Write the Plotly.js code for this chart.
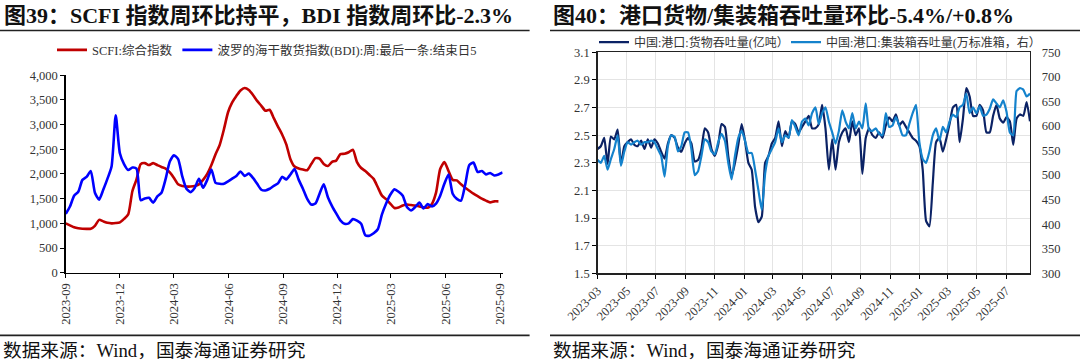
<!DOCTYPE html>
<html>
<head>
<meta charset="utf-8">
<script src="https://cdn.plot.ly/plotly-3.0.1.min.js"></script>
<style>
html,body{margin:0;padding:0;background:#fff;}
#chart{width:1080px;height:363px;}
</style>
</head>
<body>
<div id="chart"></div>
<script>
// ---------- Figure 39 data (weekly, Fridays) ----------
const scfiStart = '2023-09-01';
const scfiName = 'SCFI:综合指数';
const bdiName = '波罗的海干散货指数(BDI):周:最后一条:结束日5';
const scfi = [
  1000,960,920,900,890,888,890,950,1070,1040,
  1010,1000,1005,1020,1090,1180,1650,1890,2200,2220,
  2180,2220,2180,2140,2110,2030,1920,1790,1755,1745,
  1745,1755,1790,1880,2000,2180,2400,2590,2900,3250,
  3450,3580,3690,3740,3700,3600,3480,3380,3280,3300,
  3130,2960,2800,2600,2300,2150,2110,2090,2075,2200,
  2320,2310,2200,2160,2245,2270,2400,2410,2440,2490,
  2240,2120,2060,1980,1900,1730,1560,1490,1400,1310,
  1320,1360,1380,1370,1360,1340,1325,1315,1390,1620,
  2100,2240,2060,1880,1870,1790,1720,1660,1600,1550,
  1500,1460,1425,1445,1445
];
const bdi = [
  1190,1340,1560,1640,1880,1940,2060,1620,1480,1680,
  1900,2150,3190,2420,2200,2080,2130,2110,1470,1505,
  1517,1420,1545,1620,1900,2250,2380,2300,1950,1700,
  1632,1720,1900,1720,1880,2090,1820,1800,1800,1850,
  1904,1960,2050,1960,2006,1920,1800,1680,1666,1700,
  1760,1810,1940,1890,1990,2100,1880,1700,1500,1380,
  1400,1600,1790,1530,1350,1200,1060,990,1000,1085,
  1054,990,760,750,800,880,1180,1400,1580,1687,
  1640,1560,1330,1260,1330,1420,1300,1390,1340,1400,
  1560,1800,1990,1600,1496,1460,1780,2180,2230,2040,
  2060,1990,2020,1970,1990,2030
];
const leftRange = ['2023-09-01','2025-09-05'];

// ---------- Figure 40 data (weekly) ----------
const portStart = '2023-03-01';
const cargoName = '中国:港口:货物吞吐量(亿吨）';
const boxName = '中国:港口:集装箱吞吐量(万标准箱，右）';
const cargo = [
  2.40,2.42,2.48,2.29,2.49,2.47,2.54,2.29,2.42,2.45,
  2.47,2.43,2.42,2.46,2.40,2.47,2.41,2.47,2.44,2.38,
  2.33,2.44,2.50,2.48,2.41,2.38,2.44,2.48,2.44,2.31,
  2.32,2.40,2.55,2.52,2.40,2.35,2.43,2.58,2.56,2.35,
  2.20,2.30,2.43,2.58,2.46,2.30,2.25,1.98,1.87,1.91,
  2.30,2.35,2.44,2.48,2.60,2.42,2.53,2.48,2.60,2.58,
  2.52,2.56,2.60,2.64,2.55,2.55,2.58,2.72,2.55,2.25,
  2.47,2.25,2.45,2.52,2.55,2.45,2.60,2.50,2.55,2.22,
  2.48,2.55,2.50,2.48,2.52,2.48,2.57,2.63,2.60,2.65,
  2.57,2.60,2.56,2.52,2.48,2.46,2.42,2.25,1.88,1.84,
  2.15,2.45,2.48,2.38,2.47,2.58,2.70,2.72,2.45,2.62,
  2.84,2.78,2.64,2.64,2.72,2.68,2.52,2.52,2.64,2.72,
  2.62,2.59,2.63,2.60,2.43,2.62,2.65,2.64,2.74,2.60
];
const containers = [
  531,525,539,511,533,553,581,519,548,567,
  562,567,570,562,567,567,570,567,553,539,
  497,559,581,578,548,559,587,587,553,500,
  508,539,573,567,548,542,567,584,570,525,
  491,539,576,590,570,545,545,511,469,429,
  503,539,553,567,595,567,581,576,612,598,
  581,609,615,601,626,638,604,626,638,609,
  587,564,590,632,609,595,626,595,609,595,
  646,592,590,595,584,581,626,598,601,618,
  601,581,581,604,626,643,567,533,525,548,
  581,595,570,598,587,609,623,618,638,643,
  666,626,638,626,640,621,623,635,654,646,
  638,652,629,587,581,671,677,674,660,666
];
const rightRange = ['2023-03-01','2025-08-20'];

const title39 = '图39：SCFI 指数周环比持平，BDI 指数周环比-2.3%';
const title40 = '图40：港口货物/集装箱吞吐量环比-5.4%/+0.8%';
const sourceText = '数据来源：Wind，国泰海通证券研究';

// weekly date labels for each series
function weeklyDates(start, n) {
  const d0 = new Date(start + 'T00:00:00Z');
  const out = [];
  for (let i = 0; i < n; i++) {
    const d = new Date(d0.getTime() + i * 7 * 86400000);
    out.push(d.toISOString().slice(0, 10));
  }
  return out;
}

const serif = "'Liberation Serif', 'Times New Roman', 'Noto Sans CJK SC', serif";
const W = 1080, H = 363;
const px = v => v / W;          // horizontal pixel -> paper
const py = v => 1 - v / H;      // vertical pixel -> paper

const traces = [
  {x: weeklyDates(scfiStart, scfi.length), y: scfi, name: scfiName, type: 'scatter', mode: 'lines',
   xaxis: 'x', yaxis: 'y', legend: 'legend',
   line: {color: '#C00000', width: 2.6, shape: 'spline', smoothing: 0.6}},
  {x: weeklyDates(scfiStart, bdi.length), y: bdi, name: bdiName, type: 'scatter', mode: 'lines',
   xaxis: 'x', yaxis: 'y', legend: 'legend',
   line: {color: '#0000FF', width: 2.6, shape: 'spline', smoothing: 0.6}},
  {x: weeklyDates(portStart, cargo.length), y: cargo, name: cargoName, type: 'scatter', mode: 'lines',
   xaxis: 'x2', yaxis: 'y2', legend: 'legend2',
   line: {color: '#0B2265', width: 2.2, shape: 'spline', smoothing: 0.5}},
  {x: weeklyDates(portStart, containers.length), y: containers, name: boxName, type: 'scatter', mode: 'lines',
   xaxis: 'x2', yaxis: 'y3', legend: 'legend3',
   line: {color: '#1482CC', width: 2.2, shape: 'spline', smoothing: 0.5}}
];

const tickFont = {family: serif, size: 12.5, color: '#333'};
const grid = '#e4e4e4';
const legFont = {family: serif, size: 12, color: '#333'};

const layout = {
  width: W, height: H,
  margin: {l: 0, r: 0, t: 0, b: 0},
  paper_bgcolor: '#fff', plot_bgcolor: '#fff',
  font: {family: serif, size: 12.5, color: '#333'},
  showlegend: true,
  xaxis: {
    domain: [px(65.8), px(502.6)], anchor: 'y', type: 'date', range: leftRange,
    tick0: '2023-09-01', dtick: 'M3', tickformat: '%Y-%m', tickangle: -90,
    ticks: 'outside', ticklen: 4, tickcolor: '#000', tickwidth: 1,
    showline: true, linecolor: '#000', linewidth: 1.5, showgrid: false, zeroline: false,
    tickfont: tickFont, automargin: false
  },
  yaxis: {
    domain: [py(272.7), py(75.2)], anchor: 'x', range: [0, 4000], dtick: 500, tick0: 0,
    tickformat: ',d', ticks: 'outside', ticklen: 4, tickcolor: '#000',
    showline: true, linecolor: '#000', linewidth: 1.5, showgrid: false, zeroline: false,
    tickfont: tickFont, automargin: false
  },
  xaxis2: {
    domain: [px(597.5), px(1030)], anchor: 'y2', type: 'date', range: rightRange,
    tick0: '2023-03-01', dtick: 'M2', tickformat: '%Y-%m', tickangle: -45,
    ticks: 'outside', ticklen: 4, tickcolor: '#000',
    showline: true, mirror: true, linecolor: '#222', linewidth: 1.3,
    showgrid: true, gridcolor: grid, gridwidth: 1, zeroline: false,
    tickfont: tickFont, automargin: false
  },
  yaxis2: {
    domain: [py(273.3), py(52.3)], anchor: 'x2', range: [1.5, 3.1], dtick: 0.2, tick0: 1.5,
    tickformat: '.1f', ticks: 'outside', ticklen: 4, tickcolor: '#000',
    showline: true, linecolor: '#222', linewidth: 1.3,
    showgrid: true, gridcolor: grid, gridwidth: 1, zeroline: false,
    tickfont: tickFont, automargin: false
  },
  yaxis3: {
    overlaying: 'y2', side: 'right', anchor: 'x2', range: [300, 750], dtick: 50, tick0: 300,
    ticks: '', showline: true, linecolor: '#222', linewidth: 1.3,
    showgrid: false, zeroline: false, ticklabelstandoff: 8,
    tickfont: tickFont, automargin: false
  },
  legend: {
    orientation: 'h', x: px(52), y: py(50.2), xanchor: 'left', yanchor: 'middle',
    font: {family: serif, size: 12.5, color: '#333'}, itemwidth: 30,
    bgcolor: 'rgba(0,0,0,0)', borderwidth: 0, traceorder: 'normal'
  },
  legend2: {
    orientation: 'h', x: px(594), y: py(42.2), xanchor: 'left', yanchor: 'middle',
    font: legFont, itemwidth: 30, bgcolor: 'rgba(0,0,0,0)', borderwidth: 0
  },
  legend3: {
    orientation: 'h', x: px(786), y: py(42.2), xanchor: 'left', yanchor: 'middle',
    font: legFont, itemwidth: 30, bgcolor: 'rgba(0,0,0,0)', borderwidth: 0
  },
  annotations: [
    {text: title39, xref: 'paper', yref: 'paper', x: px(2), y: py(15.5), xanchor: 'left', yanchor: 'middle',
     showarrow: false, font: {family: serif, size: 22, color: '#111', weight: 'bold'}},
    {text: title40, xref: 'paper', yref: 'paper', x: px(551), y: py(15.5), xanchor: 'left', yanchor: 'middle',
     showarrow: false, font: {family: serif, size: 22, color: '#111', weight: 'bold'}},
    {text: sourceText, xref: 'paper', yref: 'paper', x: px(1), y: py(350), xanchor: 'left', yanchor: 'middle',
     showarrow: false, font: {family: serif, size: 18.7, color: '#111'}},
    {text: sourceText, xref: 'paper', yref: 'paper', x: px(551), y: py(350), xanchor: 'left', yanchor: 'middle',
     showarrow: false, font: {family: serif, size: 18.7, color: '#111'}}
  ],
  shapes: [
    {type: 'line', xref: 'paper', yref: 'paper', x0: 0, x1: px(529.6), y0: py(30.5), y1: py(30.5), line: {color: '#222', width: 1.6}},
    {type: 'line', xref: 'paper', yref: 'paper', x0: px(550), x1: 1, y0: py(30.5), y1: py(30.5), line: {color: '#222', width: 1.6}},
    {type: 'line', xref: 'paper', yref: 'paper', x0: 0, x1: px(529.6), y0: py(335.4), y1: py(335.4), line: {color: '#222', width: 1.6}},
    {type: 'line', xref: 'paper', yref: 'paper', x0: px(550), x1: 1, y0: py(335.4), y1: py(335.4), line: {color: '#222', width: 1.6}}
  ]
};

Plotly.newPlot('chart', traces, layout, {displayModeBar: false, staticPlot: true});
</script>
</body>
</html>
